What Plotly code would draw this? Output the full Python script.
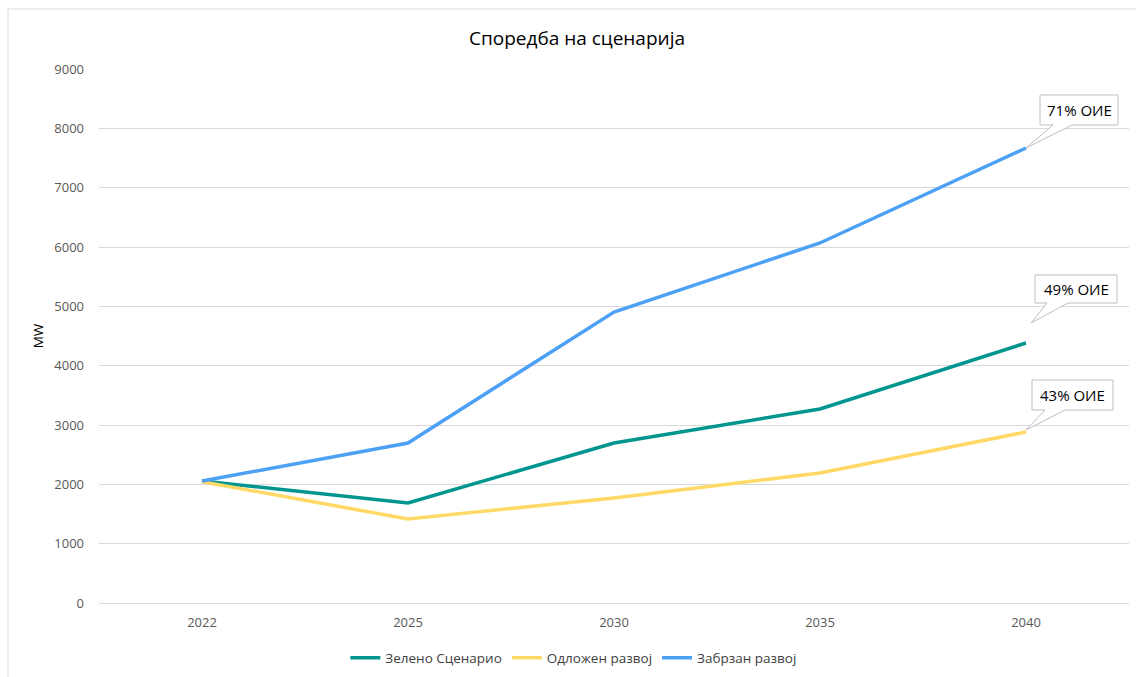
import plotly.graph_objects as go

years = ["2022", "2025", "2030", "2035", "2040"]
zeleno = [2055, 1685, 2697, 3270, 4382]
odlozen = [2045, 1416, 1770, 2191, 2882]
zabrzan = [2056, 2697, 4905, 6068, 7669]
labels = ["71% ОИЕ", "49% ОИЕ", "43% ОИЕ"]

FONT = "Open Sans"
fig = go.Figure()
fig.add_trace(go.Scatter(x=years, y=zeleno, mode="lines", name="Зелено Сценарио",
                         line=dict(color="#00968F", width=3.5)))
fig.add_trace(go.Scatter(x=years, y=odlozen, mode="lines", name="Одложен развој",
                         line=dict(color="#FFD966", width=3.5)))
fig.add_trace(go.Scatter(x=years, y=zabrzan, mode="lines", name="Забрзан развој",
                         line=dict(color="#4DA1F5", width=3.5)))

last_idx = len(years) - 1
# callouts: (value, path in pixels relative to the end point, text centre shift)
callouts = [
    (zabrzan[-1], "M 14,23 L 27,23 L 0,0 L 46,23 L 92,23 L 92,53 L 14,53 Z", 53, 38),
    (zeleno[-1], "M 9,40 L 21,40 L 5,20 L 42,40 L 91,40 L 91,68 L 9,68 Z", 50, 54),
    (odlozen[-1], "M 6,22 L 19,22 L 0,2 L 39,22 L 87,22 L 87,52 L 6,52 Z", 46.5, 37),
]
for (val, path, xs, ys), txt in zip(callouts, labels):
    fig.add_shape(type="path", xref="x", yref="y", xsizemode="pixel", ysizemode="pixel",
                  xanchor=last_idx, yanchor=val, path=path,
                  fillcolor="white", line=dict(color="#BFBFBF", width=1), layer="above")
    fig.add_annotation(x=last_idx, y=val, xref="x", yref="y", text=txt, showarrow=False,
                       xshift=xs, yshift=ys, font=dict(family=FONT, size=15, color="#000000"))

# outer chart border
fig.add_shape(type="rect", xref="paper", yref="paper",
              x0=(8 - 99) / 1030, x1=(1140 - 99) / 1030,
              y0=-(690 - 603) / 534, y1=(603 - 9) / 534,
              line=dict(color="#D9D9D9", width=1), fillcolor="rgba(0,0,0,0)", layer="below")

fig.update_layout(
    width=1136, height=677,
    margin=dict(l=99, r=7, t=69, b=74, autoexpand=False),
    paper_bgcolor="white", plot_bgcolor="white",
    title=dict(text="Споредба на сценарија", x=577 / 1136, xanchor="center",
               y=1 - 38 / 677, yanchor="middle",
               font=dict(family=FONT, size=19, color="#000000")),
    font=dict(family=FONT, size=13, color="#595959"),
    showlegend=True,
    legend=dict(orientation="h", x=0.461, xanchor="center", y=-(658 - 603) / 534, yanchor="middle",
                font=dict(family=FONT, size=13.5, color="#404040"), itemwidth=30,
                tracegroupgap=0),
    xaxis=dict(type="category", range=[-0.5, 4.5], showgrid=False, showline=False,
               zeroline=False, ticks="", ticklabelstandoff=10,
               tickfont=dict(family=FONT, size=13, color="#595959")),
    yaxis=dict(range=[0, 9000], dtick=1000, tick0=0, showgrid=True, gridcolor="#D9D9D9",
               gridwidth=1, zeroline=True, zerolinecolor="#D9D9D9", zerolinewidth=1,
               showline=False, ticks="", ticklabelstandoff=14, tickformat="d",
               tickfont=dict(family=FONT, size=13, color="#595959"),
               title=dict(text="MW", standoff=7,
                          font=dict(family=FONT, size=13.5, color="#000000"))),
)

fig.write_html("out.html")
